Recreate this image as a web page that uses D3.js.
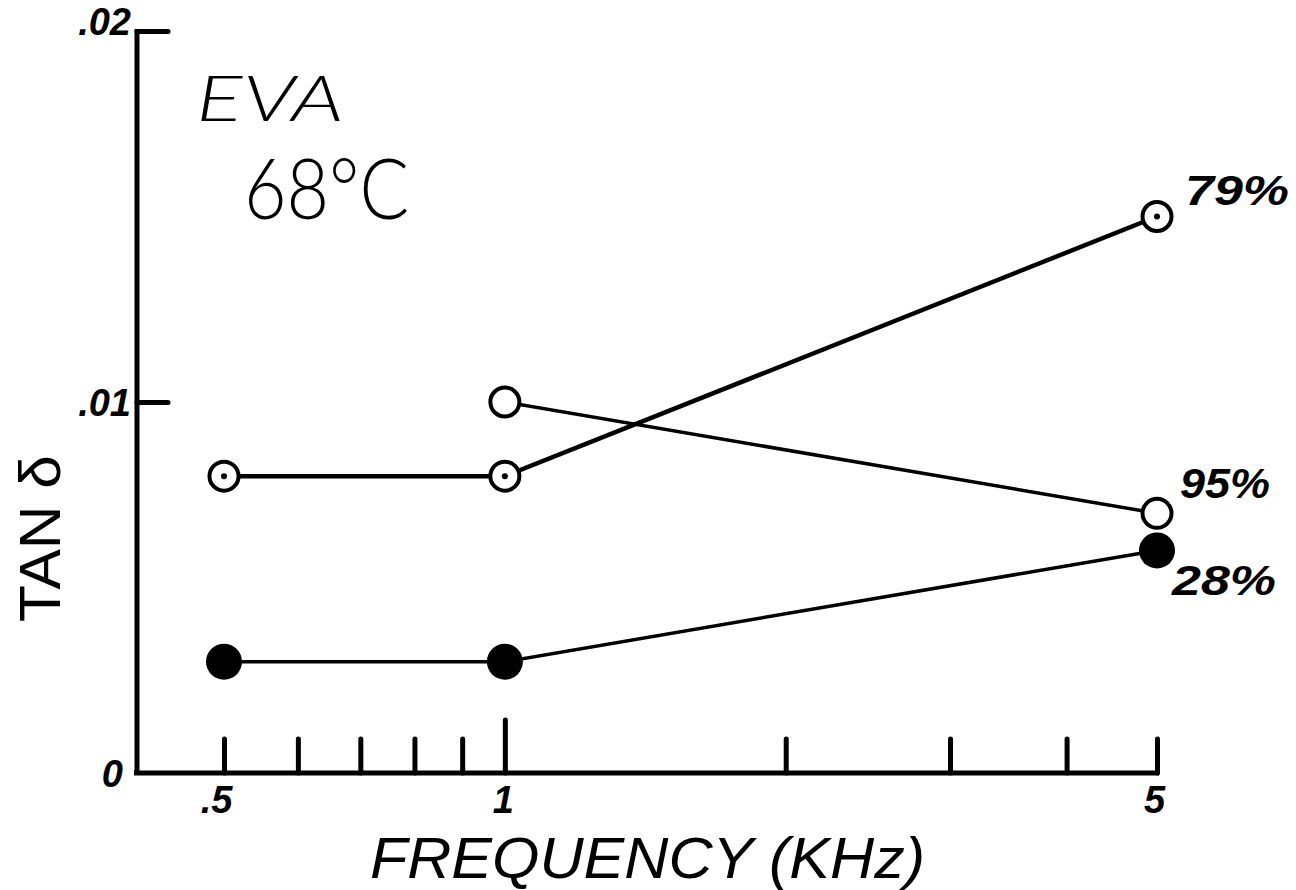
<!DOCTYPE html>
<html>
<head>
<meta charset="utf-8">
<script src="https://cdn.jsdelivr.net/npm/d3@7"></script>
<style>
  html, body { margin: 0; padding: 0; background: #fff; }
  svg { display: block; }
  text { fill: #000; }
</style>
</head>
<body>
<script>
// ---- data ----
const frequencies = [0.5, 1, 5];               // kHz
const series79 = [0.008, 0.008, 0.015];       // 79 % (dotted open circles)
const series95 = [null, 0.010, 0.007];        // 95 % (open circles)
const series28 = [0.003, 0.003, 0.006];       // 28 % (filled circles)
const seriesNames = ["79%", "95%", "28%"];
const xTickValues = [0.5, 0.6, 0.7, 0.8, 0.9, 1, 2, 3, 4, 5];
const xLabelValues = [0.5, 1, 5];
const xLabelTexts = [".5", "1", "5"];
const yTickValues = [0, 0.01, 0.02];
const yTickTexts = ["0", ".01", ".02"];
const annotationLines = ["EVA", "68°C"];

const W = 1296, H = 890;
const svg = d3.select("body").append("svg").attr("width", W).attr("height", H);

const x = d3.scaleLog().domain([0.5, 5]).range([224, 1157]);
const y = d3.scaleLinear().domain([0, 0.02]).range([773, 31]);
const axisX0 = 137;

const handFont = "'Liberation Sans', Arial, sans-serif";
const annFont = "Lato, 'Open Sans', sans-serif";

// ---- axes lines ----
svg.append("line").attr("x1", axisX0).attr("x2", axisX0)
  .attr("y1", y(0.02) - 2).attr("y2", y(0) + 2)
  .attr("stroke", "#000").attr("stroke-width", 5);
svg.append("line").attr("x1", axisX0 - 3).attr("x2", x(5) + 2)
  .attr("y1", y(0)).attr("y2", y(0))
  .attr("stroke", "#000").attr("stroke-width", 5);

// ---- x axis ticks ----
const xAxis = d3.axisBottom(x).tickValues(xTickValues).tickSize(-35)
  .tickFormat(d => { const i = xLabelValues.indexOf(d); return i >= 0 ? xLabelTexts[i] : ""; });
const gx = svg.append("g").attr("transform", `translate(0,${y(0)})`).call(xAxis);
gx.select(".domain").remove();
gx.selectAll(".tick line").attr("stroke", "#000").attr("stroke-width", 5)
  .attr("stroke-linecap", "round")
  .attr("y2", d => d === 1 ? -53 : -34);
gx.selectAll(".tick text")
  .style("font-family", handFont).style("font-style", "italic").style("font-weight", "bold")
  .style("font-size", "38px").attr("y", 40).attr("dy", 0)
  .attr("dx", d => d === 0.5 ? -8 : (d === 5 ? -3 : -2));

// ---- y axis ticks ----
const yAxis = d3.axisLeft(y).tickValues(yTickValues).tickSize(-31)
  .tickFormat((d, i) => yTickTexts[i]);
const gy = svg.append("g").attr("transform", `translate(${axisX0},0)`).call(yAxis);
gy.select(".domain").remove();
gy.selectAll(".tick line").attr("stroke", "#000").attr("stroke-width", 5)
  .attr("stroke-linecap", "round")
  .attr("display", d => d === 0 ? "none" : null);
gy.selectAll(".tick text")
  .style("font-family", handFont).style("font-style", "italic").style("font-weight", "bold")
  .style("font-size", "38px")
  .attr("dy", d => d === 0.02 ? "0.1em" : "0.36em")
  .attr("x", d => d === 0 ? -14 : -6);

// ---- series ----
const allSeries = [
  { name: seriesNames[0], values: series79, marker: "dot", lw: 4.5 },
  { name: seriesNames[1], values: series95, marker: "open", lw: 3.5 },
  { name: seriesNames[2], values: series28, marker: "filled", lw: 3.5 }
];
const line = d3.line().defined(d => d.v != null).x(d => x(d.f)).y(d => y(d.v));

allSeries.forEach(s => {
  const pts = frequencies.map((f, i) => ({ f, v: s.values[i] }));
  svg.append("path").datum(pts).attr("d", line)
    .attr("fill", "none").attr("stroke", "#000").attr("stroke-width", s.lw);
});

allSeries.forEach(s => {
  const pts = frequencies.map((f, i) => ({ f, v: s.values[i] })).filter(d => d.v != null);
  const g = svg.append("g");
  if (s.marker === "filled") {
    g.selectAll("circle").data(pts).join("circle")
      .attr("cx", d => x(d.f)).attr("cy", d => y(d.v)).attr("r", 18).attr("fill", "#000");
  } else {
    g.selectAll("circle.o").data(pts).join("circle").attr("class", "o")
      .attr("cx", d => x(d.f)).attr("cy", d => y(d.v)).attr("r", 14.5)
      .attr("fill", "#fff").attr("stroke", "#000").attr("stroke-width", 4);
    if (s.marker === "dot") {
      g.selectAll("circle.d").data(pts).join("circle").attr("class", "d")
        .attr("cx", d => x(d.f)).attr("cy", d => y(d.v)).attr("r", 3).attr("fill", "#000");
    }
  }
});

// ---- series labels (at last point) ----
const labelOffsets = { "79%": [28, -12], "95%": [23, -15], "28%": [15, 45] };
allSeries.forEach(s => {
  const last = s.values.length - 1;
  const off = labelOffsets[s.name];
  svg.append("text")
    .attr("x", x(frequencies[last]) + off[0]).attr("y", y(s.values[last]) + off[1])
    .attr("font-family", handFont).attr("font-style", "italic").attr("font-weight", "bold")
    .attr("font-size", 42)
    .attr("textLength", s.name === "95%" ? 90 : 104).attr("lengthAdjust", "spacingAndGlyphs")
    .text(s.name);
});

// ---- annotation ----
svg.append("text").attr("x", 196).attr("y", 121)
  .attr("font-family", annFont).attr("font-weight", 300)
  .attr("font-style", "italic").attr("font-size", 64)
  .attr("textLength", 148).attr("lengthAdjust", "spacingAndGlyphs")
  .text(annotationLines[0]);
svg.append("text").attr("x", 244).attr("y", 219)
  .attr("font-family", annFont).attr("font-weight", 300)
  .attr("font-size", 84)
  .attr("textLength", 165).attr("lengthAdjust", "spacingAndGlyphs")
  .text(annotationLines[1]);

// ---- axis titles ----
svg.append("text").attr("x", 370).attr("y", 878)
  .attr("font-family", handFont).attr("font-style", "italic")
  .attr("font-size", 58).attr("textLength", 555).attr("lengthAdjust", "spacingAndGlyphs")
  .text("FREQUENCY  (KHz)");
svg.append("text")
  .attr("transform", "translate(60,622) rotate(-90)")
  .attr("font-family", handFont)
  .attr("font-size", 58).attr("textLength", 167).attr("lengthAdjust", "spacingAndGlyphs")
  .text("TAN δ");
</script>
</body>
</html>
